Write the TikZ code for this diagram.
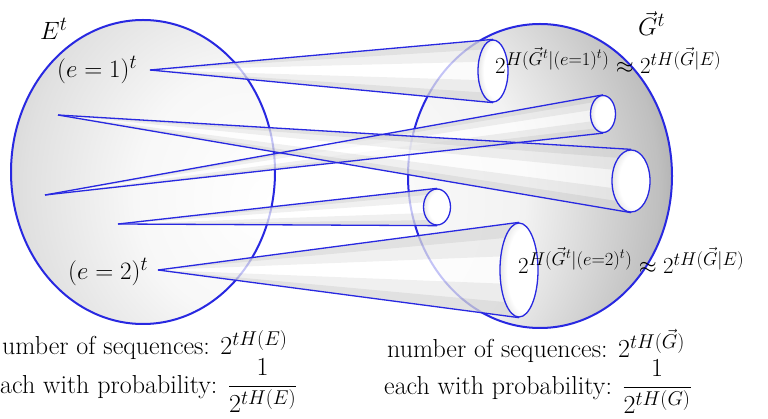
\RequirePackage{fix-cm}
\documentclass[tikz,border=0pt]{standalone}
\usepackage{amsmath}
\usetikzlibrary{shapes.geometric,calc}
\DeclareMathSizes{26}{26}{20}{15}
\DeclareMathSizes{25}{25}{20}{15}
\DeclareMathSizes{23}{23}{18.5}{14}
\definecolor{lineblue}{RGB}{40,40,225}
\definecolor{ballgray}{RGB}{95,90,90}
\pgfdeclareradialshading{leftball}{\pgfpoint{25bp}{-5bp}}{color(0bp)=(white); color(20bp)=(white!97!black); color(36bp)=(black!12); color(46bp)=(black!20); color(52bp)=(black!28); color(57bp)=(black!42); color(80bp)=(black!46)}
\pgfdeclareradialshading{rightball}{\pgfpoint{-45bp}{-5bp}}{color(0bp)=(white); color(28bp)=(white!95!black); color(45bp)=(black!25); color(55bp)=(black!48); color(63bp)=(ballgray); color(90bp)=(ballgray)}
\pgfdeclareradialshading{holeshade}{\pgfpoint{12bp}{0bp}}{color(0bp)=(white); color(22bp)=(white); color(50bp)=(black!35)}
\pgfdeclarelayer{back}
\pgfdeclarelayer{conefills}
\pgfsetlayers{back,conefills,main}
\begin{document}
\begin{tikzpicture}[x=1pt,y=-1pt,
  ball/.style={ellipse, draw=lineblue, line width=2pt, inner sep=0pt},
  opening/.style={ellipse, draw=lineblue, line width=1.3pt, inner sep=0pt, shading=holeshade},
  conefill/.style={fill=white, fill opacity=0.72, draw=none},
  conetint/.style={fill=black, fill opacity=0.06, draw=none},
  coneline/.style={draw=lineblue, line width=1.3pt},
  lab/.style={inner sep=0pt, anchor=base west, font=\fontsize{25}{30}\selectfont},
  blab/.style={inner sep=0pt, anchor=base west, font=\fontsize{26}{31}\selectfont},
  hlab/.style={inner sep=0pt, anchor=base west, font=\fontsize{23}{27}\selectfont}]
\useasboundingbox (0,0) rectangle (768,419);
\begin{pgfonlayer}{back}
\fill[white] (0,0) rectangle (768,419);
\node[ball, shading=leftball, minimum width=264pt, minimum height=304pt] (E) at (143,172) {};
\node[ball, shading=rightball, minimum width=264pt, minimum height=304pt] (G) at (540,176) {};
\end{pgfonlayer}
% apexes
\coordinate (a1) at (150,70);
\coordinate (a2) at (45,195);
\coordinate (a3) at (58,115);
\coordinate (a4) at (118,224);
\coordinate (a5) at (158,270);
% openings
\node[opening, minimum width=30pt, minimum height=62pt] (o1) at (493,71) {};
\node[opening, minimum width=25pt, minimum height=37pt] (o2) at (603,114) {};
\node[opening, minimum width=38pt, minimum height=62pt] (o3) at (631,181) {};
\node[opening, minimum width=27pt, minimum height=36pt] (o4) at (437,207) {};
\node[opening, minimum width=38pt, minimum height=94pt] (o5) at (519,270) {};
\begin{pgfonlayer}{conefills}
\foreach \i in {1,...,5}{
  \fill[conefill] (a\i) -- (o\i.north) -- (o\i.south) -- cycle;
  \fill[conetint] (a\i) -- (o\i.north) -- ($(o\i.north)!0.35!(o\i.south)$) -- cycle;
  \fill[conetint] (a\i) -- (o\i.north) -- ($(o\i.north)!0.15!(o\i.south)$) -- cycle;
  \fill[conetint] (a\i) -- (o\i.south) -- ($(o\i.south)!0.35!(o\i.north)$) -- cycle;
  \fill[conetint] (a\i) -- (o\i.south) -- ($(o\i.south)!0.15!(o\i.north)$) -- cycle;
}
\end{pgfonlayer}
\foreach \i in {1,...,5}{
  \draw[coneline] (a\i) -- (o\i.north);
  \draw[coneline] (a\i) -- (o\i.south);
}
% labels
\node[lab] (Elabel) at (40,40) {$E^t$};
\node[lab] (e1) at (57,78) {$(e=1)^t$};
\node[lab] (e2) at (68,280) {$(e=2)^t$};
\node[lab] (Glabel) at (638,36) {$\vec{G}^t$};
\node[hlab] (h1) at (495,74) {$2^{H(\vec{G}^t|(e=1)^t)}\approx 2^{tH(\vec{G}|E)}$};
\node[hlab] (h2) at (518,274) {$2^{H(\vec{G}^t|(e=2)^t)}\approx 2^{tH(\vec{G}|E)}$};
\node[blab] (nl) at (2,355) {umber of sequences: $2^{tH(E)}$};
\node[blab] (pl) at (0,393) {ach with probability: $\dfrac{1}{2^{tH(E)}}$};
\node[blab] (nr) at (387,358) {number of sequences: $2^{tH(\vec{G})}$};
\node[blab] (pr) at (384,394) {each with probability: $\dfrac{1}{2^{tH(G)}}$};
\end{tikzpicture}
\end{document}
